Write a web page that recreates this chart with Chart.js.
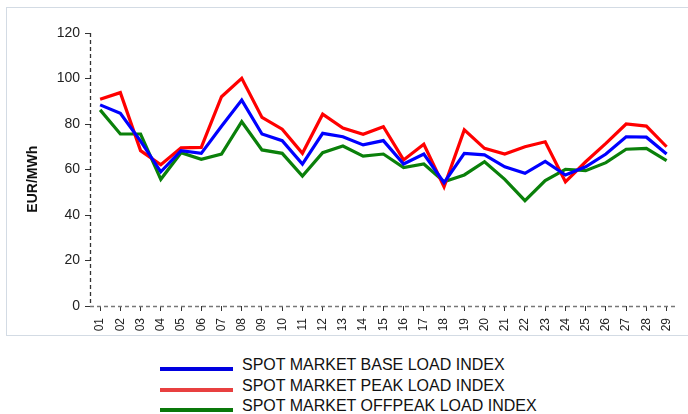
<!DOCTYPE html>
<html>
<head>
<meta charset="utf-8">
<script src="https://cdn.jsdelivr.net/npm/chart.js@4.4.0/dist/chart.umd.min.js"></script>
<style>
  body { margin: 0; background: #fff; font-family: "Liberation Sans", Arial, sans-serif; }
  #wrap { position: relative; width: 688px; height: 414px; overflow: hidden; }
  #frame { position: absolute; left: 6px; top: 7px; width: 700px; height: 327px; border: 1px solid #d3dbe4; }
  #box { position: absolute; left: 0; top: 0; width: 688px; height: 340px; }
  #legend { position: absolute; left: 160px; top: 353px; }
  .item { position: relative; height: 20.5px; }
  .swatch { position: absolute; left: 0; top: 14px; width: 73px; height: 4px; }
  .label { position: absolute; left: 82px; top: 3px; font-size: 16px; color: #111; white-space: nowrap; }
</style>
</head>
<body>
<div id="wrap">
  <div id="frame"></div>
  <div id="box"><canvas id="chart"></canvas></div>
  <div id="legend"></div>
</div>
<script>
const days = ['01','02','03','04','05','06','07','08','09','10','11','12','13','14','15',
              '16','17','18','19','20','21','22','23','24','25','26','27','28','29'];
const baseLoad = [88.4, 84.7, 72.5, 59.0, 68.3, 67.1, 79.0, 90.5, 75.6, 72.7, 62.4, 75.9, 74.4, 70.8, 72.7,
                  62.4, 66.8, 54.2, 67.1, 66.4, 61.2, 58.3, 63.6, 57.6, 61.2, 66.8, 74.4, 74.2, 66.8];
const peakLoad = [90.9, 93.8, 68.3, 62.1, 69.5, 69.7, 92.0, 100.1, 82.9, 77.7, 67.1, 84.3, 78.2, 75.5, 78.8,
                  64.2, 71.1, 52.4, 77.4, 69.3, 66.8, 70.0, 72.2, 54.6, 63.4, 71.5, 80.0, 79.1, 70.0];
const offpeakLoad = [86.2, 75.6, 75.6, 55.7, 67.4, 64.5, 66.8, 81.0, 68.6, 67.1, 57.1, 67.4, 70.3, 65.9, 66.8,
                     60.8, 62.4, 54.6, 57.6, 63.4, 55.7, 46.3, 55.1, 60.1, 59.5, 63.0, 68.9, 69.3, 63.9];
const seriesNames = ['SPOT MARKET BASE LOAD INDEX', 'SPOT MARKET PEAK LOAD INDEX', 'SPOT MARKET OFFPEAK LOAD INDEX'];
const lineColors = ['#0000ff', '#ff0000', '#0a800a'];
const legendColors = ['#0000e0', '#e84040', '#0a780a'];

const fontFamily = '"Liberation Sans", Arial, sans-serif';

function makeSet(i, data) {
    return {
        label: seriesNames[i],
        data: data,
        borderColor: lineColors[i],
        backgroundColor: lineColors[i],
        borderWidth: 3.2,
        pointRadius: 0,
        tension: 0,
        fill: false
    };
}

// dashed axis lines along the chart area edges
const dashedAxes = {
    id: 'dashedAxes',
    afterDraw(chart) {
        const { ctx, chartArea: a } = chart;
        ctx.save();
        ctx.lineWidth = 1.3;
        ctx.setLineDash([4, 3]);
        ctx.strokeStyle = '#333';
        ctx.beginPath();
        ctx.moveTo(a.left + 0.5, a.top);
        ctx.lineTo(a.left + 0.5, a.bottom);
        ctx.stroke();
        ctx.strokeStyle = '#777';
        ctx.beginPath();
        ctx.moveTo(a.left, a.bottom + 0.5);
        ctx.lineTo(a.right, a.bottom + 0.5);
        ctx.stroke();
        ctx.restore();
    }
};

new Chart(document.getElementById('chart'), {
    type: 'line',
    data: {
        labels: days,
        datasets: [makeSet(0, baseLoad), makeSet(1, peakLoad), makeSet(2, offpeakLoad)]
    },
    plugins: [dashedAxes],
    options: {
        responsive: true,
        maintainAspectRatio: false,
        animation: false,
        layout: { padding: { top: 33, left: 0, right: 0, bottom: 0 } },
        plugins: {
            legend: { display: false },
            tooltip: { enabled: false }
        },
        scales: {
            x: {
                offset: true,
                grid: {
                    display: true, drawOnChartArea: false, tickLength: 5, offset: false,
                    tickColor: '#333'
                },
                border: { display: false },
                ticks: {
                    minRotation: 90, maxRotation: 90, autoSkip: false, padding: 7,
                    color: '#222', font: { family: fontFamily, size: 12 }
                },
                afterFit: function (scale) { scale.height = 34; }
            },
            y: {
                min: 0, max: 120,
                grid: {
                    display: true, drawOnChartArea: false, tickLength: 5,
                    tickColor: '#333'
                },
                border: { display: false },
                ticks: {
                    stepSize: 20, padding: 5,
                    color: '#222', font: { family: fontFamily, size: 14 }
                },
                title: {
                    display: true, text: 'EUR/MWh     ', color: '#111',
                    font: { family: fontFamily, size: 14, weight: 'bold' },
                    padding: { top: 25, bottom: 0 }
                },
                afterFit: function (scale) { scale.width = 90; }
            }
        }
    }
});

// legend stacked, left aligned
const legendEl = document.getElementById('legend');
seriesNames.forEach(function (name, i) {
    const row = document.createElement('div');
    row.className = 'item';
    row.innerHTML = '<div class="swatch" style="background:' + legendColors[i] + '"></div>' +
                    '<div class="label">' + name + '</div>';
    legendEl.appendChild(row);
});
</script>
</body>
</html>
